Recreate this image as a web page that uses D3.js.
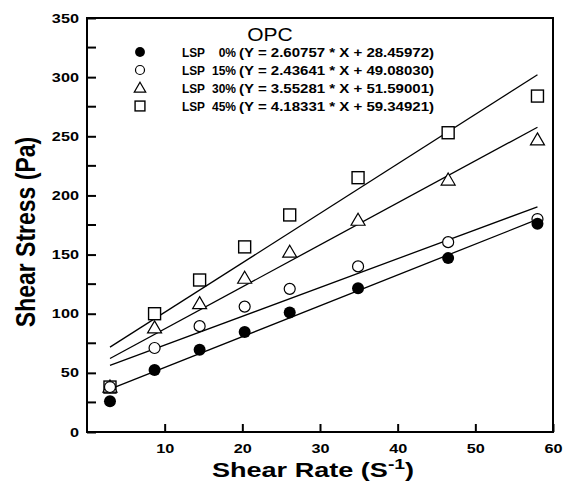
<!DOCTYPE html>
<html>
<head>
<meta charset="utf-8">
<script src="https://cdn.jsdelivr.net/npm/d3@7"></script>
<style>
  body { margin: 0; background: #fff; }
  text { font-family: "Liberation Sans", Arial, sans-serif; }
</style>
</head>
<body>
<div id="chart"></div>
<script>
// shear rate values
var shearRate = [2.96, 8.7, 14.5, 20.3, 26.1, 34.9, 46.5, 58.0];
// shear stress per series
var lsp0 = [26, 52.5, 69.5, 84.5, 101, 121.5, 147, 176];
var lsp15 = [38, 71, 89.5, 106, 121, 140, 160.5, 180];
var lsp30 = [38, 88, 108.5, 130, 152, 179, 213, 247];
var lsp45 = [38, 100, 128.5, 156.5, 183.5, 215, 253, 284];
var seriesNames = ["0%", "15%", "30%", "45%"];
var slopes = [2.60757, 2.43641, 3.55281, 4.18331];
var intercepts = [28.45972, 49.08030, 51.59001, 59.34921];
var eqLabels = ["(Y = 2.60757 * X + 28.45972)", "(Y = 2.43641 * X + 49.08030)",
    "(Y = 3.55281 * X + 51.59001)", "(Y = 4.18331 * X + 59.34921)"];
var xTicks = [10, 20, 30, 40, 50, 60];
var yTicks = [0, 50, 100, 150, 200, 250, 300, 350];
var yMinorTicks = [25, 75, 125, 175, 225, 275, 325];

var allSeries = [lsp0, lsp15, lsp30, lsp45];
var symbols = ["filled", "circle", "triangle", "square"];

var width = 568, height = 483;
var margin = {top: 18, right: 15, bottom: 51, left: 87};
var sx = 1.3; // the source figure is stretched sideways

var svg = d3.select("#chart").append("svg")
    .attr("width", width)
    .attr("height", height);

var x = d3.scaleLinear().domain([0, 60]).range([margin.left, width - margin.right]);
var y = d3.scaleLinear().domain([0, 350]).range([height - margin.bottom, margin.top]);

// frame
svg.append("rect")
    .attr("x", x(0)).attr("y", y(350))
    .attr("width", x(60) - x(0)).attr("height", y(0) - y(350))
    .attr("fill", "none").attr("stroke", "#000").attr("stroke-width", 2);

// x axis
var xAxis = svg.append("g")
    .attr("transform", "translate(0," + y(0) + ")")
    .call(d3.axisBottom(x).tickValues(xTicks).tickSize(-8).tickPadding(12));
xAxis.select(".domain").remove();
xAxis.selectAll("line").attr("stroke-width", 2);
xAxis.selectAll("text")
    .attr("transform", "scale(" + sx + ",1)")
    .style("font-size", "12.5px").style("font-weight", "bold")
    .style("font-family", "Liberation Sans, Arial, sans-serif");

// y axis
var yAxis = svg.append("g")
    .attr("transform", "translate(" + x(0) + ",0)")
    .call(d3.axisLeft(y).tickValues(yTicks).tickSize(-9).tickPadding(6.2));
yAxis.select(".domain").remove();
yAxis.selectAll("line").attr("stroke-width", 2);
yAxis.selectAll("text")
    .attr("transform", "scale(" + sx + ",1)")
    .style("font-size", "12.5px").style("font-weight", "bold")
    .style("font-family", "Liberation Sans, Arial, sans-serif");

svg.append("g")
    .selectAll("line")
    .data(yMinorTicks)
    .enter().append("line")
    .attr("x1", x(0)).attr("x2", x(0) + 9)
    .attr("y1", function(d) { return y(d); })
    .attr("y2", function(d) { return y(d); })
    .attr("stroke", "#000").attr("stroke-width", 2);

// axis titles
svg.append("text")
    .attr("transform", "translate(35,232) rotate(-90) scale(1,1.2)")
    .attr("text-anchor", "middle")
    .style("font-size", "23px").style("font-weight", "bold")
    .text("Shear Stress (Pa)");

var xt = svg.append("text")
    .attr("transform", "translate(313,477) scale(1.29,1)")
    .attr("text-anchor", "middle")
    .style("font-size", "21px").style("font-weight", "bold")
    .text("Shear Rate (S");
xt.append("tspan").attr("dy", -8).style("font-size", "15px").text("-1");
xt.append("tspan").attr("dy", 8).text(")");

// fitted lines
var xMin = d3.min(shearRate), xMax = d3.max(shearRate);
var line = d3.line()
    .x(function(d) { return x(d[0]); })
    .y(function(d) { return y(d[1]); });

slopes.forEach(function(m, i) {
    svg.append("path")
        .attr("d", line([[xMin, m * xMin + intercepts[i]], [xMax, m * xMax + intercepts[i]]]))
        .attr("fill", "none")
        .attr("stroke", "#000")
        .attr("stroke-width", 1.3);
});

function drawSymbol(g, kind, cx, cy, k) {
    k = k || 1;
    if (kind === "filled") {
        g.append("circle").attr("cx", cx).attr("cy", cy).attr("r", 6 * k)
            .attr("fill", "#000");
    } else if (kind === "circle") {
        g.append("circle").attr("cx", cx).attr("cy", cy).attr("r", 5.5 * k)
            .attr("fill", "#fff").attr("stroke", "#000").attr("stroke-width", 1.2);
    } else if (kind === "triangle") {
        g.append("path")
            .attr("d", "M" + cx + "," + (cy - 7 * k) + "L" + (cx + 7 * k) + "," + (cy + 5 * k) +
                "L" + (cx - 7 * k) + "," + (cy + 5 * k) + "Z")
            .attr("fill", "#fff").attr("stroke", "#000").attr("stroke-width", 1.2);
    } else {
        g.append("rect").attr("x", cx - 6 * k).attr("y", cy - 6 * k)
            .attr("width", 12 * k).attr("height", 12 * k)
            .attr("fill", "#fff").attr("stroke", "#000").attr("stroke-width", 1.4);
    }
}

// points, drawn top series first so filled circles stay on top
var pts = svg.append("g");
for (var s = allSeries.length - 1; s >= 0; --s) {
    for (var j = 0; j < shearRate.length; ++j) {
        drawSymbol(pts, symbols[s], x(shearRate[j]), y(allSeries[s][j]));
    }
}

// legend
var legend = svg.append("g");
legend.append("text")
    .attr("transform", "translate(270,41) scale(1.2,1)")
    .attr("text-anchor", "middle")
    .style("font-size", "17.5px")
    .text("OPC");

for (var k = 0; k < seriesNames.length; ++k) {
    var ly = 52 + k * 18;
    drawSymbol(legend, symbols[k], 140, ly, 0.82);
    legend.append("text").attr("x", 182).attr("y", ly + 4.5)
        .attr("textLength", 23).attr("lengthAdjust", "spacingAndGlyphs")
        .style("font-size", "12.5px").style("font-weight", "bold").text("LSP");
    legend.append("text").attr("x", 236).attr("y", ly + 4.5)
        .attr("text-anchor", "end")
        .style("font-size", "12px").style("font-weight", "bold").text(seriesNames[k]);
    legend.append("text").attr("x", 239).attr("y", ly + 4.5)
        .attr("textLength", 195).attr("lengthAdjust", "spacingAndGlyphs")
        .style("font-size", "12.5px").style("font-weight", "bold").text(eqLabels[k]);
}
</script>
</body>
</html>
